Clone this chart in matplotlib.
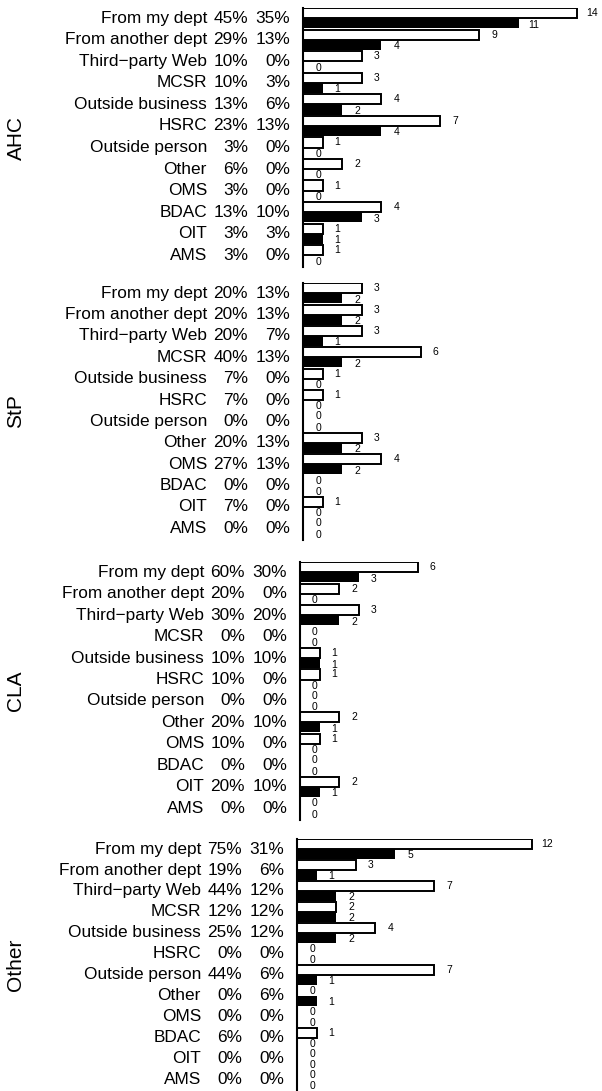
import numpy as np
import matplotlib.pyplot as plt
from matplotlib.transforms import offset_copy

plt.rcParams['font.family'] = ['Liberation Sans', 'DejaVu Sans']

categories = ["From my dept", "From another dept", "Third\u2212party Web", "MCSR",
              "Outside business", "HSRC", "Outside person", "Other", "OMS",
              "BDAC", "OIT", "AMS"]
groups = ["AHC", "StP", "CLA", "Other"]

# white bars / black bars (counts) and the percentages printed in the labels
ahc_white = [14, 9, 3, 3, 4, 7, 1, 2, 1, 4, 1, 1]
ahc_black = [11, 4, 0, 1, 2, 4, 0, 0, 0, 3, 1, 0]
ahc_white_pct = [45, 29, 10, 10, 13, 23, 3, 6, 3, 13, 3, 3]
ahc_black_pct = [35, 13, 0, 3, 6, 13, 0, 0, 0, 10, 3, 0]

stp_white = [3, 3, 3, 6, 1, 1, 0, 3, 4, 0, 1, 0]
stp_black = [2, 2, 1, 2, 0, 0, 0, 2, 2, 0, 0, 0]
stp_white_pct = [20, 20, 20, 40, 7, 7, 0, 20, 27, 0, 7, 0]
stp_black_pct = [13, 13, 7, 13, 0, 0, 0, 13, 13, 0, 0, 0]

cla_white = [6, 2, 3, 0, 1, 1, 0, 2, 1, 0, 2, 0]
cla_black = [3, 0, 2, 0, 1, 0, 0, 1, 0, 0, 1, 0]
cla_white_pct = [60, 20, 30, 0, 10, 10, 0, 20, 10, 0, 20, 0]
cla_black_pct = [30, 0, 20, 0, 10, 0, 0, 10, 0, 0, 10, 0]

oth_white = [12, 3, 7, 2, 4, 0, 7, 0, 0, 1, 0, 0]
oth_black = [5, 1, 2, 2, 2, 0, 1, 1, 0, 0, 0, 0]
oth_white_pct = [75, 19, 44, 12, 25, 0, 44, 0, 0, 6, 0, 0]
oth_black_pct = [31, 6, 12, 12, 12, 0, 6, 6, 0, 0, 0, 0]

whites = [ahc_white, stp_white, cla_white, oth_white]
blacks = [ahc_black, stp_black, cla_black, oth_black]
white_pcts = [ahc_white_pct, stp_white_pct, cla_white_pct, oth_white_pct]
black_pcts = [ahc_black_pct, stp_black_pct, cla_black_pct, oth_black_pct]

W, H = 602, 1091
fig = plt.figure(figsize=(W / 100, H / 100), dpi=100)

# panel boxes in pixels: left, top, height
boxes = [(303, 8, 259), (303, 283, 257), (300, 562, 258), (297, 839, 252)]
fs = 12.4

for g in range(4):
    left, top, h = boxes[g]
    ax = fig.add_axes([left / W, 1 - (top + h) / H, 294 / W, h / H])
    y = np.arange(len(categories))
    ax.barh(y - 0.235, whites[g], height=0.47, color='white', edgecolor='black', linewidth=1.4)
    ax.barh(y + 0.235, blacks[g], height=0.47, color='black', linewidth=0)
    ax.set_xlim(0, 15)
    ax.set_ylim(11.55, -0.48)
    for s in ['top', 'right', 'bottom']:
        ax.spines[s].set_visible(False)
    ax.spines['left'].set_linewidth(1.5)
    ax.set_xticks([])
    ax.set_yticks([])

    yt = ax.get_yaxis_transform()
    t_name = offset_copy(yt, fig=fig, x=-96, units='dots')
    t_p1 = offset_copy(yt, fig=fig, x=-55, units='dots')
    t_p2 = offset_copy(yt, fig=fig, x=-13, units='dots')
    t_cnt = offset_copy(ax.transData, fig=fig, x=15, units='dots')
    for i, cat in enumerate(categories):
        ax.text(0, i, cat, transform=t_name, ha='right', va='center', fontsize=fs)
        ax.text(0, i, "%d%%" % white_pcts[g][i], transform=t_p1, ha='right', va='center', fontsize=fs)
        ax.text(0, i, "%d%%" % black_pcts[g][i], transform=t_p2, ha='right', va='center', fontsize=fs)
        ax.text(whites[g][i], i - 0.235, str(whites[g][i]), transform=t_cnt,
                ha='center', va='center', fontsize=7.5, clip_on=False)
        ax.text(blacks[g][i], i + 0.3, str(blacks[g][i]), transform=t_cnt,
                ha='center', va='center', fontsize=7.5, clip_on=False)

    fig.text(16 / W, 1 - (top + h / 2) / H, groups[g], rotation=90,
             ha='center', va='center', fontsize=15)

fig.savefig("out.png", dpi=100)
